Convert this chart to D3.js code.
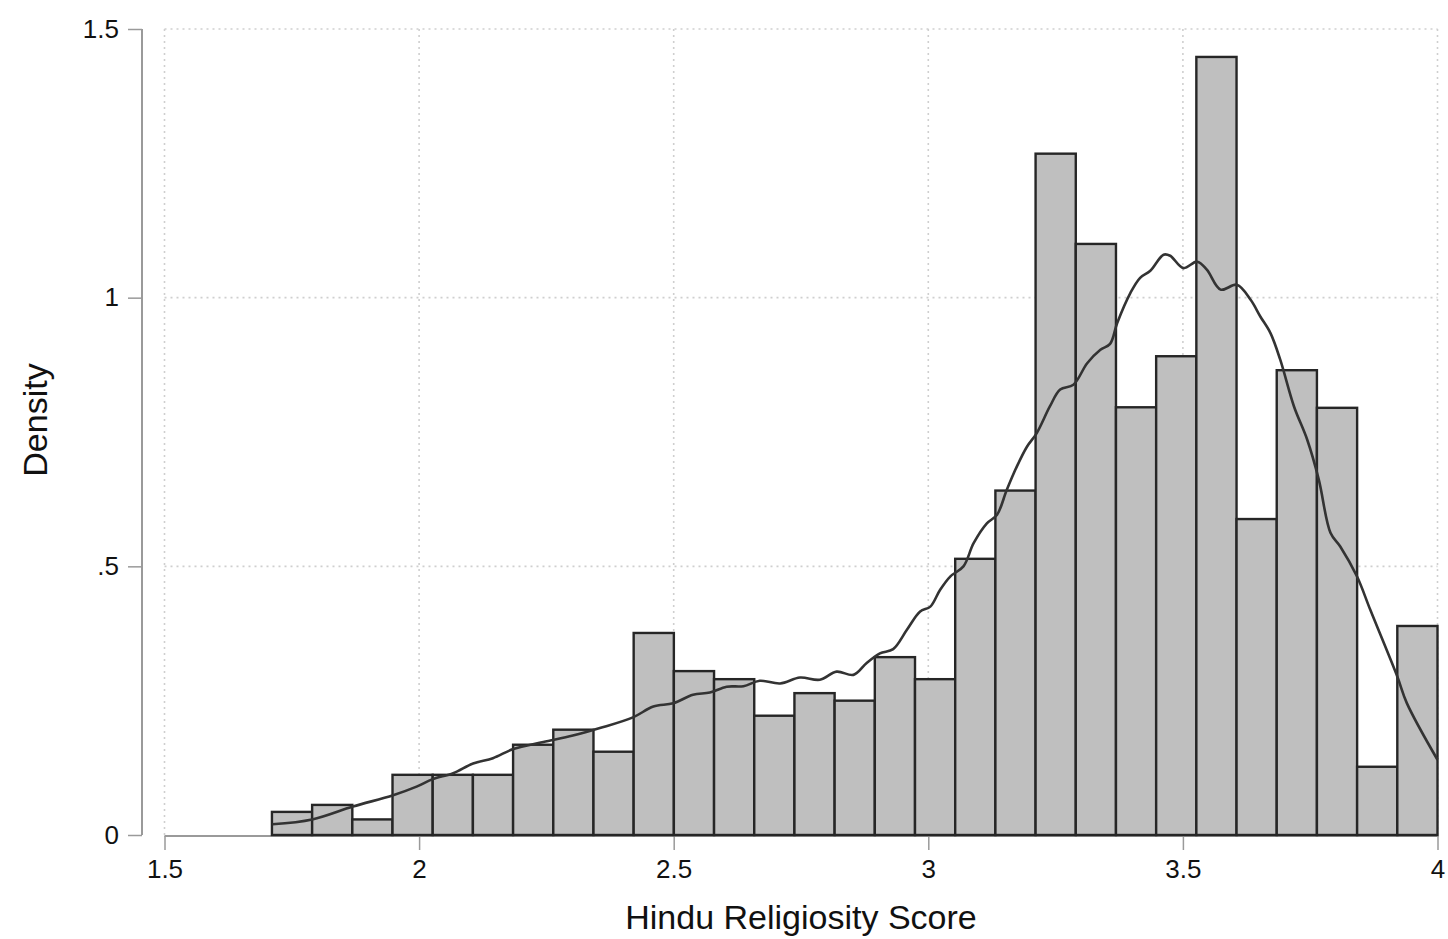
<!DOCTYPE html>
<html>
<head>
<meta charset="utf-8">
<script src="https://cdn.jsdelivr.net/npm/d3@7"></script>
<style>
  html, body { margin: 0; padding: 0; background: #fff; }
  svg { display: block; }
  text { font-family: "Liberation Sans", Arial, Helvetica, sans-serif; fill: #111; }
</style>
</head>
<body>
<svg id="chart" width="1448" height="939"></svg>
<script>
// ---- Data ----
const binStart = 1.711;
const binEnd = 4.0;
const binDensity = [
  0.043, 0.056, 0.029, 0.112, 0.112, 0.112, 0.168, 0.196, 0.155, 0.376,
  0.305, 0.290, 0.222, 0.264, 0.250, 0.331, 0.290, 0.514, 0.641, 1.268,
  1.100, 0.796, 0.891, 1.448, 0.588, 0.865, 0.795, 0.127, 0.389
];
const kdeX = [
  1.712, 1.790, 1.870, 1.949, 1.995, 2.027, 2.067, 2.106, 2.145, 2.185,
  2.244, 2.302, 2.355, 2.420, 2.460, 2.499, 2.538, 2.571, 2.604, 2.637,
  2.669, 2.709, 2.748, 2.787, 2.820, 2.853, 2.879, 2.905, 2.931, 2.958,
  2.984, 3.004, 3.023, 3.043, 3.069, 3.089, 3.115, 3.135, 3.154, 3.174,
  3.194, 3.213, 3.239, 3.259, 3.285, 3.312, 3.338, 3.357, 3.371, 3.397,
  3.416, 3.436, 3.462, 3.475, 3.501, 3.528, 3.547, 3.574, 3.606, 3.633,
  3.652, 3.672, 3.691, 3.718, 3.744, 3.767, 3.790, 3.809, 3.842, 3.868,
  3.921, 3.940, 4.000
];
const kdeY = [
  0.020, 0.029, 0.053, 0.074, 0.090, 0.104, 0.115, 0.133, 0.143, 0.160,
  0.173, 0.185, 0.199, 0.219, 0.239, 0.245, 0.261, 0.265, 0.276, 0.277,
  0.287, 0.282, 0.293, 0.289, 0.304, 0.298, 0.320, 0.338, 0.346, 0.382,
  0.416, 0.425, 0.456, 0.481, 0.500, 0.543, 0.580, 0.596, 0.642, 0.686,
  0.723, 0.748, 0.798, 0.829, 0.838, 0.878, 0.903, 0.914, 0.953, 1.009,
  1.037, 1.050, 1.080, 1.078, 1.055, 1.067, 1.052, 1.015, 1.024, 0.996,
  0.965, 0.934, 0.885, 0.798, 0.736, 0.661, 0.562, 0.537, 0.481, 0.419,
  0.295, 0.245, 0.140
];
const xTicks = [1.5, 2, 2.5, 3, 3.5, 4];
const xTickLabels = ["1.5", "2", "2.5", "3", "3.5", "4"];
const yTicks = [0, 0.5, 1, 1.5];
const yTickLabels = ["0", ".5", "1", "1.5"];
const xTitle = "Hindu Religiosity Score";
const yTitle = "Density";

// ---- Scales ----
const svg = d3.select("#chart");
const x = d3.scaleLinear().domain([1.5, 4]).range([164.5, 1437.5]);
const y = d3.scaleLinear().domain([0, 1.5]).range([835, 29]);
const binW = (binEnd - binStart) / binDensity.length;
const bins = binDensity.map((d, i) => ({ x0: binStart + i * binW, x1: binStart + (i + 1) * binW, d }));

// ---- Grid ----
const grid = svg.append("g");
grid.selectAll("line.v").data(xTicks).join("line")
  .attr("x1", d => x(d)).attr("x2", d => x(d))
  .attr("y1", y(1.5)).attr("y2", y(0))
  .attr("stroke", "#cfcfcf").attr("stroke-width", 1.6).attr("stroke-dasharray", "2,4");
grid.selectAll("line.h").data(yTicks.filter(t => t > 0)).join("line")
  .attr("x1", x(1.5)).attr("x2", x(4))
  .attr("y1", d => y(d)).attr("y2", d => y(d))
  .attr("stroke", "#cfcfcf").attr("stroke-width", 1.6).attr("stroke-dasharray", "2,4");

// ---- Axes ----
const axisColor = "#9a9a9a";
const yAx = svg.append("g").attr("transform", "translate(142,0)")
  .call(d3.axisLeft(y).tickValues(yTicks).tickFormat((d, i) => yTickLabels[i]).tickSize(14).tickPadding(9));
yAx.select(".domain").attr("stroke", axisColor).attr("stroke-width", 2).attr("d", `M0,${y(1.5)}V${y(0)}`);
yAx.selectAll(".tick line").attr("stroke", axisColor).attr("stroke-width", 1.5);
yAx.selectAll(".tick text").attr("font-size", 26).attr("fill", "#111")
  .attr("font-family", "'Liberation Sans', Arial, sans-serif");

const xAx = svg.append("g").attr("transform", "translate(0,836)")
  .call(d3.axisBottom(x).tickValues(xTicks).tickFormat((d, i) => xTickLabels[i]).tickSize(14).tickPadding(10));
xAx.select(".domain").attr("stroke", axisColor).attr("stroke-width", 2).attr("d", `M${x(1.5)},0H${x(4)}`);
xAx.selectAll(".tick line").attr("stroke", axisColor).attr("stroke-width", 1.5);
xAx.selectAll(".tick text").attr("font-size", 26).attr("fill", "#111")
  .attr("font-family", "'Liberation Sans', Arial, sans-serif");

// ---- Bars ----
svg.append("g").selectAll("rect").data(bins).join("rect")
  .attr("x", d => x(d.x0)).attr("width", d => x(d.x1) - x(d.x0))
  .attr("y", d => y(d.d)).attr("height", d => y(0) - y(d.d))
  .attr("fill", "#bfbfbf").attr("stroke", "#262626").attr("stroke-width", 2.4);

// ---- Density curve ----
const pts = kdeX.map((v, i) => [v, kdeY[i]]);
svg.append("path").datum(pts)
  .attr("fill", "none").attr("stroke", "#333").attr("stroke-width", 2.6)
  .attr("stroke-linejoin", "round")
  .attr("d", d3.line().x(d => x(d[0])).y(d => y(d[1])).curve(d3.curveCatmullRom.alpha(0.5)));

// ---- Titles ----
svg.append("text").attr("x", 801).attr("y", 929).attr("text-anchor", "middle")
  .attr("font-size", 34).text(xTitle);
svg.append("text").attr("transform", "translate(47,420) rotate(-90)").attr("text-anchor", "middle")
  .attr("font-size", 34).text(yTitle);
</script>
</body>
</html>
